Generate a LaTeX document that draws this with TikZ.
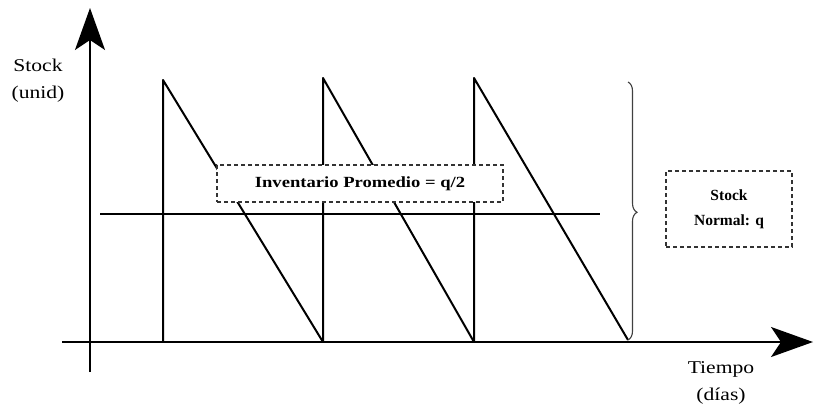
\documentclass[tikz,border=0pt]{standalone}
\usepackage{fontspec}
\setmainfont{Liberation Serif}
\newfontfamily\widefont[FakeStretch=1.2]{Liberation Serif}
\usetikzlibrary{arrows.meta,decorations.pathreplacing}
\begin{document}
\begin{tikzpicture}[x=1pt,y=-1pt,
  axis/.style={line width=2pt,-{Stealth[length=42pt,width=30pt,inset=10pt]}},
  saw/.style={line width=2pt,line join=round},
  dbox/.style={draw=black!80,line width=1.2pt,dash pattern=on 4pt off 3pt,fill=white,inner sep=0pt},
  lbl/.style={font=\widefont\fontsize{18}{27}\selectfont,align=center},
  btxt/.style={font=\bfseries\fontsize{15.5}{25}\selectfont,align=center}]
\useasboundingbox (0,0) rectangle (816,407);
% axes
\coordinate (yb) at (90,372);
\coordinate (yt) at (90,8);
\coordinate (xl) at (62,342);
\coordinate (xr) at (813,342);
\draw[axis] (yb) -- (yt);
\draw[axis] (xl) -- (xr);
% sawtooth
\coordinate (b1) at (163,342); \coordinate (p1) at (163,80);
\coordinate (b2) at (323,342); \coordinate (p2) at (323,78);
\coordinate (b3) at (474,342); \coordinate (p3) at (474,78);
\coordinate (b4) at (628,340);
\draw[saw] (b1) -- (p1) -- (b2) -- (p2) -- (b3) -- (p3) -- (b4);
% average line
\coordinate (hl) at (100,214);
\coordinate (hr) at (600,214);
\draw[line width=1.3pt] (hl) -- (hr);
% brace
\coordinate (bt) at (628,82);
\coordinate (bb) at (628,340);
\draw[line width=1.1pt,black!75,decorate,decoration={brace,amplitude=9pt,aspect=0.505}] (bt) -- (bb);
% boxes
\node[dbox,minimum width=286pt,minimum height=37pt] (avg) at (360,183.5) {};
\node[btxt,font=\widefont\bfseries\fontsize{15.5}{25}\selectfont] (avgt) at (360,184) {Inventario Promedio = q/2};
\node[dbox,minimum width=126pt,minimum height=76pt,btxt] (sn) at (729,209) {Stock\\Normal: q};
% labels
\node[lbl] (ylab) at (38,81) {Stock\\(unid)};
\node[lbl] (xlab) at (721,383) {Tiempo\\(días)};
\end{tikzpicture}
\end{document}
